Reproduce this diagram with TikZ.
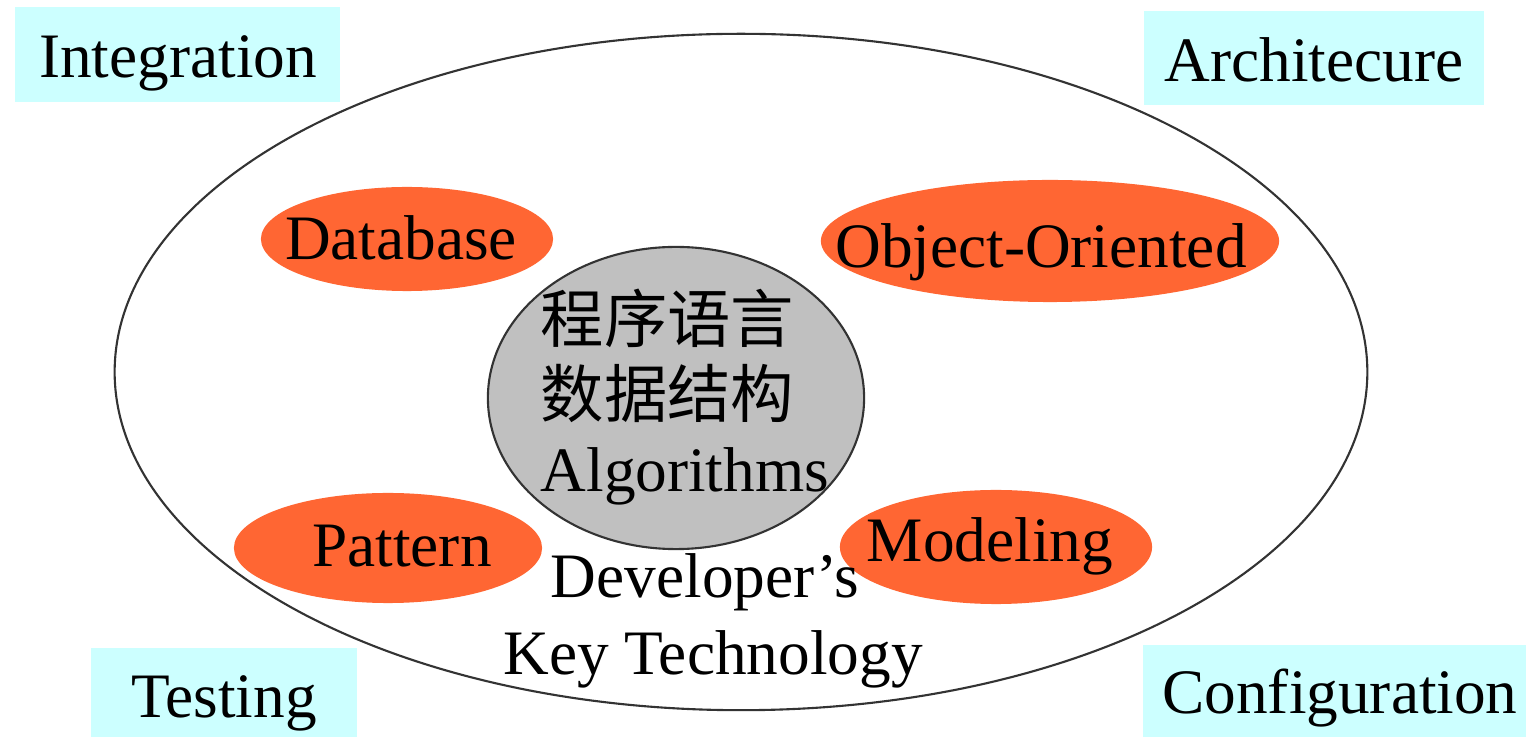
\documentclass[tikz,border=0pt]{standalone}
\usepackage{fontspec}
\setmainfont{Liberation Serif}
\newfontfamily\cjkfont{Noto Sans CJK SC}
\usetikzlibrary{shapes.geometric}
\definecolor{topicfill}{HTML}{CCFFFF}
\definecolor{techfill}{HTML}{FF6633}
\definecolor{corefill}{HTML}{C0C0C0}
\definecolor{rimline}{HTML}{333333}
\tikzset{
  lbl/.style={font=\fontsize{18}{21}\selectfont, anchor=base, inner sep=0pt},
  topicbox/.style={fill=topicfill, draw=none, inner sep=0pt},
  techblob/.style={ellipse, fill=techfill, draw=none, inner sep=0pt},
  coreblob/.style={ellipse, fill=corefill, draw=rimline, line width=0.6pt, inner sep=0pt},
  rim/.style={ellipse, draw=rimline, line width=0.6pt, inner sep=0pt}
}
\begin{document}
\begin{tikzpicture}[x=0.01cm, y=-0.01cm]
\useasboundingbox (0,0) rectangle (1526,737);

% outer ring of the developer's skills
\node[rim, minimum width=12.52cm, minimum height=6.76cm] (ring) at (741,372) {};

% surrounding topic boxes
\node[topicbox, minimum width=3.25cm, minimum height=0.95cm] (intbox) at (177.5,54.5) {};
\node[topicbox, minimum width=3.40cm, minimum height=0.94cm] (arcbox) at (1314,58) {};
\node[topicbox, minimum width=2.66cm, minimum height=0.89cm] (tstbox) at (224,692.5) {};
\node[topicbox, minimum width=3.83cm, minimum height=0.92cm] (cfgbox) at (1334.5,691) {};
\node[lbl] (inttxt) at (178,78) {Integration};
\node[lbl] (arctxt) at (1314,82) {Architecure};
\node[lbl] (tsttxt) at (224,718) {Testing};
\node[lbl] (cfgtxt) at (1340,714) {Configuration};

% key technologies
\node[techblob, minimum width=2.92cm, minimum height=1.04cm] (db) at (407,239) {};
\node[techblob, minimum width=4.58cm, minimum height=1.22cm] (oo) at (1050,241) {};
\node[techblob, minimum width=3.08cm, minimum height=1.10cm] (pat) at (388,548) {};
\node[techblob, minimum width=3.12cm, minimum height=1.14cm] (mod) at (996,547) {};
\node[lbl] (dbtxt) at (401,260) {Database};
\node[lbl] (ootxt) at (1041,268) {Object-Oriented};
\node[lbl] (pattxt) at (402,567) {Pattern};
\node[lbl] (modtxt) at (990,562) {Modeling};

% core fundamentals
\node[coreblob, minimum width=3.76cm, minimum height=3.02cm] (core) at (676,398) {};
\node[lbl, anchor=base west] (core1) at (540,343) {\cjkfont 程序语言};
\node[lbl, anchor=base west] (core2) at (540,418) {\cjkfont 数据结构};
\node[lbl, anchor=base west] (core3) at (540,492) {Algorithms};

% caption
\node[lbl] (cap1) at (705,598) {Developer’s};
\node[lbl] (cap2) at (713,675) {Key Technology};
\end{tikzpicture}
\end{document}
